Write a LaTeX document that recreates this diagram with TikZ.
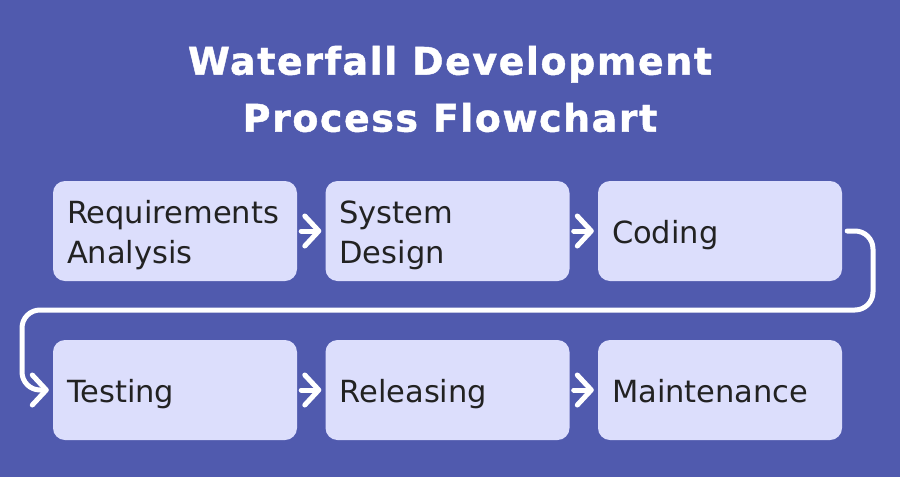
\documentclass[tikz,border=0pt]{standalone}
\usepackage{fontspec}
\setmainfont{DejaVu Sans}
\usetikzlibrary{arrows.meta}
\definecolor{bgblue}{HTML}{505AAE}
\definecolor{boxfill}{HTML}{DCDEFC}
\definecolor{boxtext}{HTML}{222222}
\newcommand{\boxstrut}{\rule[-8pt]{0pt}{40pt}}
\tikzset{
    stage/.style={rectangle, rounded corners=12pt, fill=boxfill, draw=none,
        minimum width=244pt, minimum height=100pt, text width=216pt,
        align=left, inner sep=0pt, text=boxtext,
        font=\fontsize{30.5}{40}\selectfont,
        execute at begin node=\boxstrut, execute at end node=\boxstrut},
    flow/.style={draw=white, line width=5pt, line cap=round,
        -{Straight Barb[length=14pt, width=30pt, line width=5pt, round]}}
}

\begin{document}
\begin{tikzpicture}[x=1pt, y=-1pt]
        \useasboundingbox[fill=bgblue] (0, 0) rectangle (900, 477);
        \node (title) [align=center, text=white, inner sep=0pt,
                font=\fontsize{38}{57}\selectfont\bfseries\addfontfeatures{LetterSpace=4, FakeBold=1.2}]
                at (450, 89) {Waterfall Development\\Process Flowchart};
        \node (reqs) [stage] at (175, 231) {Requirements\\Analysis};
        \node (design) [stage] at (447.5, 231) {System\\Design};
        \node (coding) [stage] at (720, 231) {Coding};
        \node (testing) [stage] at (175, 390) {Testing};
        \node (release) [stage] at (447.5, 390) {Releasing};
        \node (maint) [stage] at (720, 390) {Maintenance};
        \draw[flow] ([xshift=4pt]reqs.east) -- ([xshift=-4pt]design.west);
        \draw[flow] ([xshift=4pt]design.east) -- ([xshift=-4pt]coding.west);
        \draw[flow] ([xshift=4pt]testing.east) -- ([xshift=-4pt]release.west);
        \draw[flow] ([xshift=4pt]release.east) -- ([xshift=-4pt]maint.west);
        \draw[flow, rounded corners=18pt] ([xshift=5pt]coding.east) -| (873, 310)
                -- (22, 310) |- ([xshift=-4pt]testing.west);
\end{tikzpicture}
\end{document}
